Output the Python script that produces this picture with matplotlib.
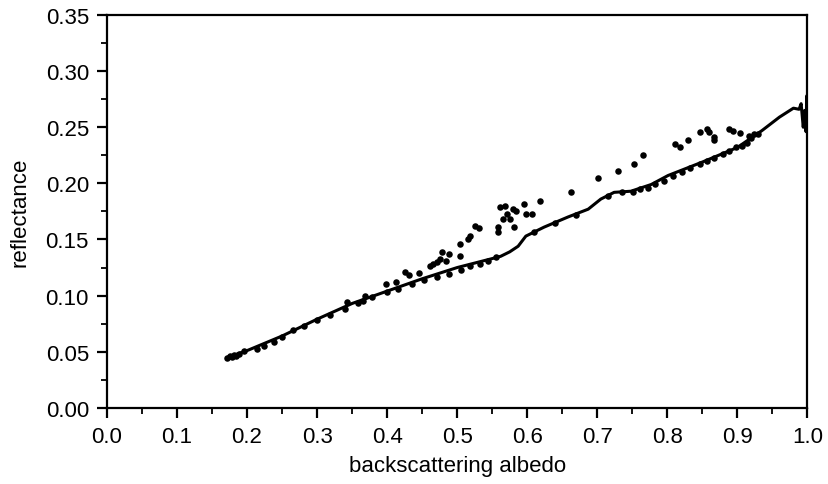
"""
Reflectance vs. backscattering albedo: model curve plus measured points.
"""

import matplotlib
matplotlib.use("Agg")
import matplotlib.pyplot as plt
from matplotlib.ticker import MultipleLocator

plt.rcParams["font.family"] = ["Liberation Sans", "DejaVu Sans"]

# model curve
curve_albedo = [0.172, 0.20, 0.25, 0.30, 0.35, 0.40, 0.45, 0.50, 0.55, 0.562,
                0.575, 0.587, 0.598, 0.624, 0.658, 0.687, 0.705, 0.724, 0.748,
                0.777, 0.801, 0.85, 0.90, 0.935, 0.96, 0.98, 0.988, 0.991,
                0.994, 0.996, 0.998, 0.999, 1.0]
curve_refl = [0.045, 0.051, 0.064, 0.079, 0.093, 0.104, 0.115, 0.125, 0.133,
              0.135, 0.139, 0.144, 0.153, 0.161, 0.170, 0.177, 0.186, 0.192,
              0.193, 0.199, 0.207, 0.219, 0.232, 0.247, 0.259, 0.267, 0.266,
              0.271, 0.250, 0.265, 0.246, 0.278, 0.262]

# measured points
point_albedo = [
    0.172, 0.175, 0.178, 0.181, 0.184, 0.188, 0.195, 0.214, 0.224, 0.238,
    0.250, 0.266, 0.282, 0.300, 0.319, 0.340, 0.343, 0.358, 0.366, 0.369,
    0.379, 0.398, 0.400, 0.412, 0.416, 0.426, 0.431, 0.436, 0.446, 0.452,
    0.461, 0.465, 0.471, 0.471, 0.475, 0.478, 0.484, 0.488, 0.488, 0.504,
    0.504, 0.505, 0.515, 0.518, 0.518, 0.526, 0.531, 0.532, 0.544, 0.556,
    0.561, 0.568, 0.571, 0.565, 0.558, 0.558, 0.575, 0.581, 0.579, 0.584,
    0.595, 0.598, 0.607, 0.618, 0.662, 0.701, 0.730, 0.753, 0.765, 0.811,
    0.818, 0.830, 0.846, 0.857, 0.860, 0.866, 0.867, 0.888, 0.894, 0.904,
    0.916, 0.923, 0.751, 0.761, 0.773, 0.783, 0.795, 0.808, 0.821, 0.833,
    0.846, 0.857, 0.867, 0.880, 0.888, 0.898, 0.906, 0.913, 0.920, 0.930,
    0.610, 0.640, 0.670, 0.715, 0.735,
]
point_refl = [
    0.044, 0.046, 0.045, 0.047, 0.046, 0.048, 0.051, 0.052, 0.055, 0.059,
    0.063, 0.069, 0.073, 0.078, 0.083, 0.088, 0.094, 0.093, 0.095, 0.100,
    0.099, 0.110, 0.103, 0.112, 0.106, 0.121, 0.118, 0.110, 0.120, 0.114,
    0.126, 0.128, 0.117, 0.130, 0.133, 0.139, 0.131, 0.137, 0.119, 0.146,
    0.135, 0.123, 0.150, 0.153, 0.126, 0.162, 0.160, 0.128, 0.131, 0.134,
    0.179, 0.180, 0.173, 0.168, 0.161, 0.157, 0.168, 0.161, 0.177, 0.175,
    0.182, 0.173, 0.173, 0.184, 0.192, 0.205, 0.211, 0.217, 0.225, 0.235,
    0.232, 0.239, 0.246, 0.248, 0.246, 0.241, 0.239, 0.248, 0.247, 0.245,
    0.242, 0.244, 0.192, 0.195, 0.196, 0.199, 0.202, 0.207, 0.210, 0.214,
    0.217, 0.220, 0.223, 0.226, 0.229, 0.232, 0.233, 0.236, 0.240, 0.244,
    0.157, 0.165, 0.172, 0.189, 0.192,
]

fig = plt.figure(figsize=(8.29, 4.85), dpi=100)
ax = fig.add_axes([0.129, 0.157, 0.845, 0.810])

ax.plot(curve_albedo, curve_refl, color="black", linewidth=2.2,
        solid_capstyle="round")
ax.scatter(point_albedo, point_refl, s=22, color="black", linewidths=0, zorder=3)

ax.set_xlim(0.0, 1.0)
ax.set_ylim(0.0, 0.35)
ax.xaxis.set_major_locator(MultipleLocator(0.1))
ax.xaxis.set_minor_locator(MultipleLocator(0.05))
ax.yaxis.set_major_locator(MultipleLocator(0.05))
ax.yaxis.set_minor_locator(MultipleLocator(0.025))
ax.xaxis.set_major_formatter(plt.FuncFormatter(lambda v, p: f"{v:.1f}"))
ax.yaxis.set_major_formatter(plt.FuncFormatter(lambda v, p: f"{v:.2f}"))

ax.tick_params(which="major", direction="out", length=7, width=1.6,
               labelsize=16, pad=6)
ax.tick_params(which="minor", direction="out", length=4, width=1.3)
ax.tick_params(top=False, right=False, which="both")
for sp in ax.spines.values():
    sp.set_linewidth(1.6)

ax.set_xlabel("backscattering albedo", fontsize=16, labelpad=6)
ax.set_ylabel("reflectance", fontsize=16, labelpad=11)

fig.savefig("out.png", dpi=100)
